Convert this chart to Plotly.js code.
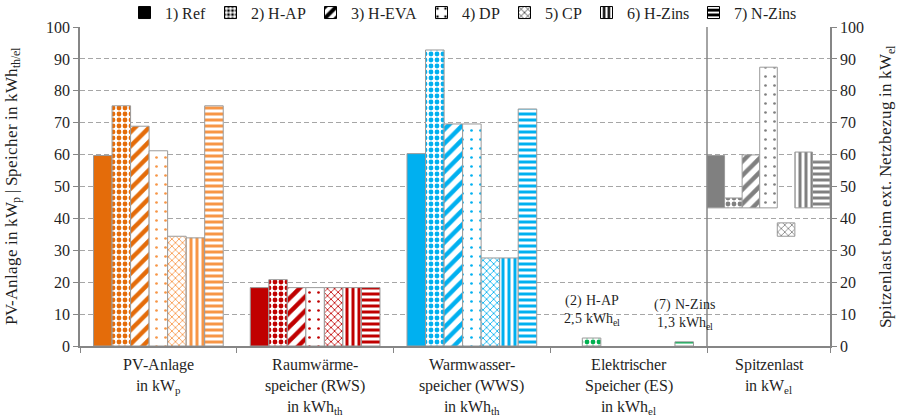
<!DOCTYPE html>
<html>
<head>
<meta charset="utf-8">
<script src="https://cdn.plot.ly/plotly-3.0.1.min.js"></script>
<style>
  @font-face { font-family: 'ChartSerif'; src: local('Liberation Serif'), local('LiberationSerif'), local('DejaVu Serif'); font-weight: normal; }
  html, body { margin: 0; padding: 0; background: #fff; font-family: 'ChartSerif', 'Liberation Serif', serif; }
  #chart { width: 898px; height: 417px; }
  #chart text { font-family: 'ChartSerif', 'Liberation Serif', serif !important; }
</style>
</head>
<body>
<div id="chart"></div>
<script>
// Storage / PV sizing per scenario (left axis) and peak grid load range (right axis)
const categories = [
  'PV-Anlage<br>in kW<sub>p</sub>',
  'Raumwärme-<br>speicher (RWS)<br>in kWh<sub>th</sub>',
  'Warmwasser-<br>speicher (WWS)<br>in kWh<sub>th</sub>',
  'Elektrischer<br>Speicher (ES)<br>in kWh<sub>el</sub>'
];
const peakCategory = ['Spitzenlast<br>in kW<sub>el</sub>'];
const scenarios = ['1) Ref', '2) H-AP', '3) H-EVA', '4) DP', '5) CP', '6) H-Zins', '7) N-Zins'];
const scenarioTags = ['(1) Ref', '(2) H-AP', '(3) H-EVA', '(4) DP', '(5) CP', '(6) H-Zins', '(7) N-Zins'];

const pvValues  = [59.7, 75.3, 68.9, 61.2, 34.4, 33.9, 75.3];
const rwsValues = [18.3, 20.8, 18.3, 18.3, 18.3, 18.3, 18.3];
const wwsValues = [60.3, 92.8, 69.6, 69.6, 27.6, 27.6, 74.3];
const esValues  = [null, 2.5, null, null, null, null, 1.3];

const peakLow  = [43.3, 43.3, 43.3, 43.3, 34.4, 43.3, 43.3];
const peakHigh = [59.7, 46.4, 59.9, 87.4, 38.6, 60.8, 58.0];

// ---- styling ----
const FONT = 'ChartSerif, Liberation Serif, serif';
const TXT = '#1f1f1f';
const AXIS = '#868686';
const GRID = '#a6a6a6';
const EDGE = '#9a9a9a';

const groupColors = ['#E46C0A', '#C00000', '#00B0F0', '#00B050'];
const groupColorsLight = ['#F79646', '#C00000', '#00B0F0', '#00B050'];
const peakColor = '#808080';

// fill pattern per scenario (bars) and a smaller version for the legend keys
const patterns = [
  { shape: '',  size: 8,  solidity: 0.5,  light: false, key: 4, keySol: 0.5 },
  { shape: '.', size: 6,  solidity: 0.5,  light: false, key: 5, keySol: 0.45 },
  { shape: '/', size: 10, solidity: 0.45, light: false, key: 12, keySol: 0.5 },
  { shape: '.', size: 9,  solidity: 0.07, light: true,  key: 12, keySol: 0.08 },
  { shape: 'x', size: 5,  solidity: 0.3,  light: true,  key: 6, keySol: 0.25 },
  { shape: '|', size: 6,  solidity: 0.5,  light: true,  key: 6, keySol: 0.5 },
  { shape: '-', size: 6,  solidity: 0.5,  light: true,  key: 6, keySol: 0.6 }
];

const nS = scenarios.length;
const wMain = 0.1182;               // bar width in category units (main panel)
const wPeak = 1 / nS;               // bars fill the peak-load panel
const valuesBy = (i) => [pvValues[i], rwsValues[i], wwsValues[i], esValues[i]];

function markerFor(i, colors) {
  const p = patterns[i];
  if (!p.shape) {
    return { color: colors, line: { color: EDGE, width: 1 } };
  }
  return {
    color: 'white',
    line: { color: EDGE, width: 1 },
    pattern: { shape: p.shape, fgcolor: colors, bgcolor: 'white',
               size: p.size, solidity: p.solidity, fillmode: 'replace' }
  };
}

const traces = [];
for (let i = 0; i < nS; i++) {
  const cols = patterns[i].light ? groupColorsLight : groupColors;
  traces.push({
    type: 'bar', xaxis: 'x', yaxis: 'y',
    x: categories, y: valuesBy(i),
    width: wMain, offset: -nS / 2 * wMain + i * wMain,
    marker: markerFor(i, cols),
    name: scenarios[i], showlegend: false, hoverinfo: 'y'
  });
  traces.push({
    type: 'bar', xaxis: 'x2', yaxis: 'y2',
    x: peakCategory, y: [peakHigh[i] - peakLow[i]], base: [peakLow[i]],
    width: wPeak, offset: -0.5 + i * wPeak,
    marker: markerFor(i, [peakColor]),
    name: scenarios[i], showlegend: false, hoverinfo: 'y'
  });
}

// legend keys drawn in black
for (let i = 0; i < nS; i++) {
  const p = patterns[i];
  const m = p.shape
    ? { color: 'white', line: { color: '#000', width: 1 },
        pattern: { shape: p.shape, fgcolor: '#000', bgcolor: 'white', size: p.key, solidity: p.keySol } }
    : { color: '#000', line: { color: '#000', width: 1 } };
  traces.push({
    type: 'bar', xaxis: 'x', yaxis: 'y',
    x: [categories[0]], y: [null],
    marker: m, name: scenarios[i], showlegend: true, hoverinfo: 'skip'
  });
}

// value notes for the electric storage group
const fmt = (v) => String(v).replace('.', ',');
const annotations = [];
for (let i = 0; i < nS; i++) {
  if (esValues[i] > 0) {
    annotations.push({
      xref: 'x', yref: 'y',
      x: 3 - nS / 2 * wMain + (i + 0.5) * wMain,
      y: esValues[i], yanchor: 'bottom', yshift: 8,
      text: scenarioTags[i] + '<br>' + fmt(esValues[i]) + ' kWh<sub>el</sub>',
      showarrow: false,
      font: { family: FONT, size: 14, color: TXT }
    });
  }
}

const yCommon = {
  range: [0, 100], dtick: 10, tick0: 0,
  showline: true, linecolor: AXIS, linewidth: 2,
  ticks: 'outside', ticklen: 5, tickcolor: AXIS,
  showgrid: true, gridcolor: GRID, griddash: '5px,3px', gridwidth: 1,
  zeroline: false,
  tickfont: { family: FONT, size: 16, color: TXT }
};
const xCommon = {
  type: 'category',
  showline: true, linecolor: AXIS, linewidth: 1.5,
  ticks: 'outside', tickson: 'boundaries', ticklen: 5, tickcolor: AXIS,
  showgrid: false, zeroline: false,
  tickfont: { family: FONT, size: 16, color: TXT },
  ticklabelstandoff: 3
};

const layout = {
  width: 898, height: 417,
  margin: { l: 80, r: 68, t: 27, b: 71, autoexpand: false },
  paper_bgcolor: '#fff', plot_bgcolor: '#fff',
  barmode: 'overlay',
  font: { family: FONT, color: TXT },
  showlegend: true,
  legend: {
    orientation: 'h', x: 0.51, xanchor: 'center', y: 1.045, yanchor: 'middle',
    font: { family: FONT, size: 16, color: TXT },
    bgcolor: 'rgba(0,0,0,0)'
  },
  xaxis: Object.assign({}, xCommon, { domain: [0, 0.836], anchor: 'y', range: [-0.5, 3.5] }),
  xaxis2: Object.assign({}, xCommon, { domain: [0.836, 1], anchor: 'y2', range: [-0.5, 0.5] }),
  yaxis: Object.assign({}, yCommon, {
    anchor: 'x',
    title: { text: 'PV-Anlage in kW<sub>p</sub> | Speicher in kWh<sub>th/el</sub>',
             font: { family: FONT, size: 17, color: TXT }, standoff: 24 }
  }),
  yaxis2: Object.assign({}, yCommon, {
    anchor: 'x2', side: 'right',
    title: { text: 'Spitzenlast beim ext. Netzbezug in kW<sub>el</sub>',
             font: { family: FONT, size: 17, color: TXT }, standoff: 16 }
  }),
  shapes: [{
    type: 'line', xref: 'x2 domain', yref: 'paper',
    x0: 0, x1: 0, y0: 0, y1: 1,
    line: { color: AXIS, width: 1.5 }
  }],
  annotations: annotations
};

Plotly.newPlot('chart', traces, layout, { displayModeBar: false });
</script>
</body>
</html>
